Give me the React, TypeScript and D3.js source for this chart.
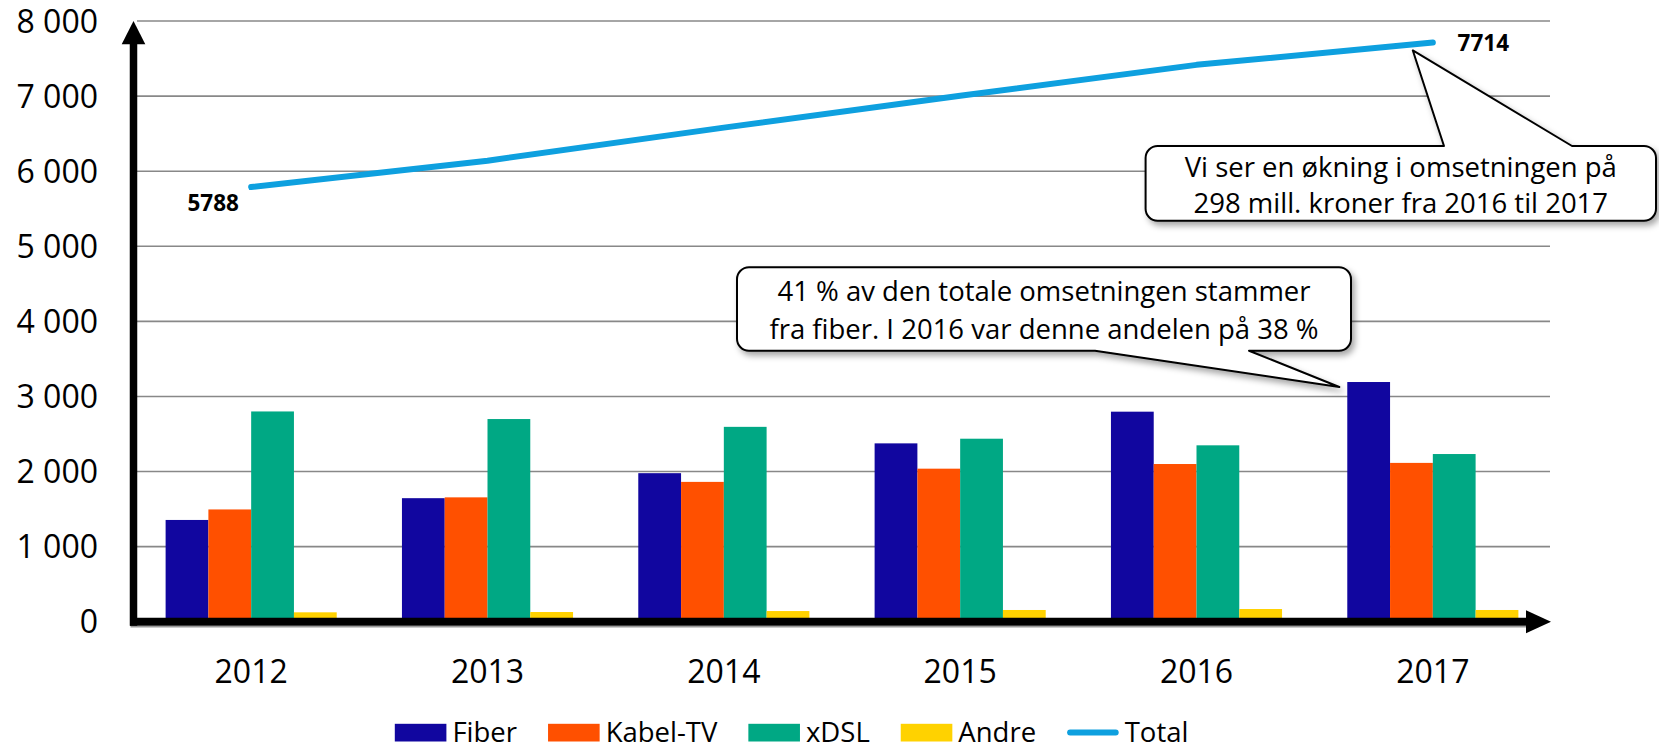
import React from 'react';
import * as d3 from 'd3';

// ---------- data ----------
const years = ['2012', '2013', '2014', '2015', '2016', '2017'];
const fiber = [1355, 1645, 1978, 2375, 2797, 3192];
const kabelTV = [1495, 1656, 1862, 2038, 2100, 2115];
const xdsl = [2800, 2699, 2595, 2437, 2349, 2233];
const andre = [125, 129, 142, 156, 169, 156];
const total = [5788, 6140, 6580, 7005, 7416, 7714];
const yTicks = [0, 1000, 2000, 3000, 4000, 5000, 6000, 7000, 8000];
const seriesNames = ['Fiber', 'Kabel-TV', 'xDSL', 'Andre'];
const seriesColors = ['#11069f', '#ff5000', '#00a884', '#ffd200'];
const totalName = 'Total';
const totalColor = '#0ea0df';
const callout1 = ['Vi ser en økning i omsetningen på', '298 mill. kroner fra 2016 til 2017'];
const callout2 = ['41 % av den totale omsetningen stammer', 'fra fiber. I 2016 var denne andelen på 38 %'];

const W = 1659;
const H = 750;
const FONT = "'Open Sans', 'Noto Sans', sans-serif";

const fmt = d3.formatLocale({ decimal: ',', thousands: ' ', grouping: [3], currency: ['', ''] }).format(',');

function calloutPath(x0: number, y0: number, x1: number, y1: number, r: number, side: 'top' | 'bottom', wa: number, wb: number, tx: number, ty: number) {
  if (side === 'top') {
    return `M${x0 + r},${y0} L${wa},${y0} L${tx},${ty} L${wb},${y0} L${x1 - r},${y0} A${r},${r} 0 0 1 ${x1},${y0 + r} L${x1},${y1 - r} A${r},${r} 0 0 1 ${x1 - r},${y1} L${x0 + r},${y1} A${r},${r} 0 0 1 ${x0},${y1 - r} L${x0},${y0 + r} A${r},${r} 0 0 1 ${x0 + r},${y0} Z`;
  }
  return `M${x0 + r},${y0} L${x1 - r},${y0} A${r},${r} 0 0 1 ${x1},${y0 + r} L${x1},${y1 - r} A${r},${r} 0 0 1 ${x1 - r},${y1} L${wb},${y1} L${tx},${ty} L${wa},${y1} L${x0 + r},${y1} A${r},${r} 0 0 1 ${x0},${y1 - r} L${x0},${y0 + r} A${r},${r} 0 0 1 ${x0 + r},${y0} Z`;
}

function measure(text: string, font: string) {
  const c = document.createElement('canvas').getContext('2d');
  if (!c) return text.length * 12;
  c.font = font;
  return c.measureText(text).width;
}

export default function App() {
  const x = d3.scaleBand<string>().domain(years).range([133, 1551]).paddingInner(0.276).paddingOuter(0.138);
  const xs = d3.scaleBand<string>().domain(seriesNames).range([0, x.bandwidth()]);
  const y = d3.scaleLinear().domain([0, 8000]).range([621.7, 21]);
  const series = [fiber, kabelTV, xdsl, andre];

  const cx = (yr: string) => (x(yr) as number) + x.bandwidth() / 2;
  const line = d3.line<number>().x((_, i) => cx(years[i])).y((d) => y(d));

  const gridX0 = 137;
  const gridX1 = 1550;
  const axisY = y(0);
  const axisX = 133.5;

  // legend layout
  const legendSize = 27.5;
  const legendFont = `${legendSize}px ${FONT}`;
  const swW = 51.6;
  let lx = 394.8;
  const legendItems: { name: string; color: string; x: number; isLine: boolean }[] = [];
  [...seriesNames, totalName].forEach((n, i) => {
    legendItems.push({ name: n, color: i < 4 ? seriesColors[i] : totalColor, x: lx, isLine: i === 4 });
    lx += swW + 6 + measure(n, legendFont) + 31;
  });
  const legBase = 741.5;

  // callout anchors from data
  const last = years.length - 1;
  const t1x = cx(years[last]) - 20;
  const t1y = y(total[last]) + 8;
  const fiberLastX = (x(years[last]) as number) + (xs('Fiber') as number);
  const t2x = fiberLastX - 8;
  const t2y = y(fiber[last]) + 5;

  const b1 = { x0: 1145.6, y0: 146, x1: 1656, y1: 220.7 };
  const b2 = { x0: 737, y0: 267.3, x1: 1351, y1: 350.7 };

  return (
    <svg width={W} height={H} style={{ position: 'absolute', left: 0, top: 0, background: '#fff' }} fontFamily={FONT}>
      <defs>
        <filter id="shadow" x="-10%" y="-30%" width="130%" height="170%">
          <feDropShadow dx="3" dy="4" stdDeviation="3" floodColor="#000" floodOpacity="0.35" />
        </filter>
      </defs>
      <rect width={W} height={H} fill="#fff" />
      {/* gridlines */}
      {yTicks.filter((t) => t > 0).map((t) => (
        <line key={t} x1={gridX0} x2={gridX1} y1={y(t)} y2={y(t)} stroke="#888" strokeWidth={1.6} />
      ))}
      {/* y tick labels */}
      {yTicks.map((t) => (
        <text key={t} x={98} y={y(t)} dy="0.36em" textAnchor="end" fontSize={32} fill="#000">{fmt(t)}</text>
      ))}
      {/* bars */}
      {years.map((yr, i) => (
        <g key={yr} transform={`translate(${x(yr)},0)`}>
          {series.map((s, k) => (
            <rect key={k} x={xs(seriesNames[k])} width={xs.bandwidth()} y={y(s[i])} height={y(0) - y(s[i])} fill={seriesColors[k]} />
          ))}
        </g>
      ))}
      {/* x labels */}
      {years.map((yr) => (
        <text key={yr} x={cx(yr)} y={683} textAnchor="middle" fontSize={32} fill="#000">{yr}</text>
      ))}
      {/* axes */}
      <line x1={axisX - 3} x2={1528} y1={axisY + 5} y2={axisY + 5} stroke="#999" strokeWidth={1.5} />
      <line x1={axisX - 3.5} x2={1528} y1={axisY} y2={axisY} stroke="#000" strokeWidth={8} />
      <path d={`M1526,${axisY - 11.5} L1551,${axisY} L1526,${axisY + 11.5} Z`} fill="#000" />
      <line x1={axisX} x2={axisX} y1={axisY + 4} y2={42} stroke="#000" strokeWidth={7.5} />
      <path d={`M${axisX - 11.8},44.3 L${axisX},21 L${axisX + 11.8},44.3 Z`} fill="#000" />
      {/* total line */}
      <path d={line(total) || ''} fill="none" stroke={totalColor} strokeWidth={6} strokeLinecap="round" strokeLinejoin="round" />
      <text x={cx(years[0]) - 38} y={y(total[0]) + 23.5} textAnchor="middle" fontSize={22.5} fontWeight="bold" fill="#000">{total[0]}</text>
      <text x={cx(years[last]) + 24.7} y={y(total[last]) + 8.3} textAnchor="start" fontSize={22.5} fontWeight="bold" fill="#000">{total[last]}</text>
      {/* callouts */}
      <path d={calloutPath(b1.x0, b1.y0, b1.x1, b1.y1, 12, 'top', 1444, 1572, t1x, t1y)} fill="#fff" stroke="#000" strokeWidth={2} strokeLinejoin="round" filter="url(#shadow)" />
      {callout1.map((s, i) => (
        <text key={i} x={(b1.x0 + b1.x1) / 2} y={176.7 + i * 36.6} textAnchor="middle" fontSize={27.5} fill="#000">{s}</text>
      ))}
      <path d={calloutPath(b2.x0, b2.y0, b2.x1, b2.y1, 12, 'bottom', 1095, 1249, t2x, t2y)} fill="#fff" stroke="#000" strokeWidth={2} strokeLinejoin="round" filter="url(#shadow)" />
      {callout2.map((s, i) => (
        <text key={i} x={(b2.x0 + b2.x1) / 2} y={301 + i * 38} textAnchor="middle" fontSize={27.5} fill="#000">{s}</text>
      ))}
      {/* legend */}
      {legendItems.map((it) => (
        <g key={it.name}>
          {it.isLine ? (
            <line x1={it.x + 3} x2={it.x + swW - 3} y1={legBase - 9} y2={legBase - 9} stroke={it.color} strokeWidth={6} strokeLinecap="round" />
          ) : (
            <rect x={it.x} y={legBase - 17.7} width={swW} height={17.7} fill={it.color} />
          )}
          <text x={it.x + swW + 6} y={legBase} fontSize={legendSize} fill="#000">{it.name}</text>
        </g>
      ))}
    </svg>
  );
}
